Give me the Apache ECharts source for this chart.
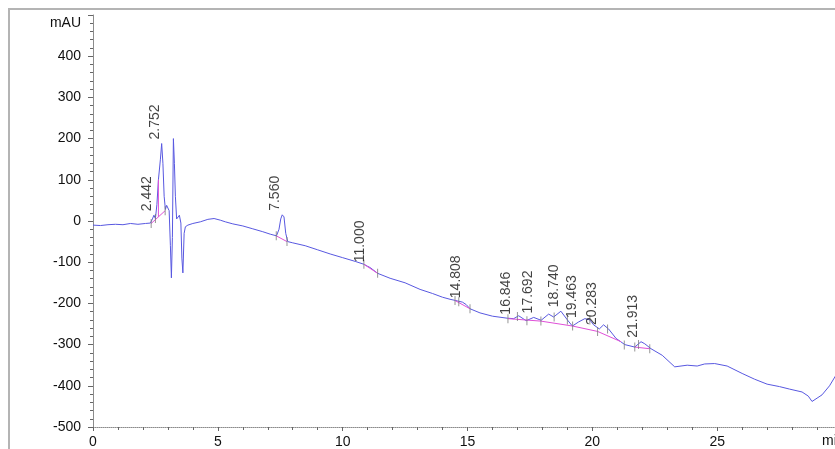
<!DOCTYPE html>
<html>
<head>
<meta charset="utf-8">
<script src="https://cdn.jsdelivr.net/npm/echarts@6/dist/echarts.min.js"></script>
<style>
  html, body { margin: 0; padding: 0; background: #fff; }
  #chart { width: 835px; height: 449px; }
</style>
</head>
<body>
<div id="chart"></div>
<script>
// Detector trace: retention time (min) and absorbance (mAU)
const traceTime = [0, 0.3, 0.6, 0.9, 1.2, 1.5, 1.8, 2.1, 2.3, 2.38, 2.44, 2.5, 2.56, 2.62, 2.66, 2.7, 2.75, 2.8, 2.85, 2.9, 2.95, 3.0, 3.05, 3.1, 3.14, 3.18, 3.22, 3.26, 3.3, 3.35, 3.4, 3.46, 3.52, 3.56, 3.6, 3.65, 3.7, 3.8, 4.0, 4.3, 4.6, 4.85, 5.1, 5.3, 5.6, 6.0, 6.4, 6.8, 7.1, 7.35, 7.45, 7.52, 7.58, 7.65, 7.72, 7.8, 8.0, 8.5, 9.0, 9.5, 10.0, 10.5, 10.85, 11.0, 11.1, 11.4, 11.9, 12.5, 13.1, 13.6, 14.0, 14.3, 14.6, 14.8, 14.95, 15.1, 15.5, 16.0, 16.6, 16.85, 17.05, 17.35, 17.65, 17.95, 18.25, 18.45, 18.74, 19.0, 19.2, 19.45, 19.7, 19.9, 20.05, 20.28, 20.45, 20.65, 20.95, 21.3, 21.7, 21.95, 22.1, 22.35, 22.8, 23.3, 23.8, 24.2, 24.5, 24.9, 25.4, 26.0, 26.5, 27.0, 27.5, 27.9, 28.4, 28.65, 28.8, 29.0, 29.2, 29.5, 29.8];
const traceMAU = [-10, -11, -9, -8, -9, -6, -8, -6, -5, 5, 14, 6, 40, 100, 98, 150, 188, 140, 60, 28, 38, 42, 25, -60, -138, -40, 200, 140, 60, 5, 8, 14, -5, -90, -126, -30, -14, -10, -6, -2, 4, 6, 2, -2, -7, -12, -19, -26, -32, -36, -20, 5, 15, 10, -30, -50, -53, -60, -70, -80, -89, -98, -105, -110, -113, -127, -139, -150, -166, -176, -185, -190, -194, -197, -203, -213, -223, -231, -236, -237, -230, -242, -234, -241, -226, -233, -219, -240, -255, -245, -237, -240, -252, -262, -252, -262, -285, -300, -306, -293, -298, -310, -326, -354, -350, -352, -347, -346, -352, -370, -384, -396, -402, -408, -415, -425, -438, -430, -422, -400, -370];

// Annotated peaks: retention time and signal at the apex
const peakTime = [2.442, 2.752, 7.560, 11.000, 14.808, 16.846, 17.692, 18.740, 19.463, 20.283, 21.913];
const peakMAU = [14, 188, 15, -110, -197, -237, -234, -219, -245, -262, -293];

// Integration baselines (null separates segments)
const baseTime = [2.33, 2.89, null, 2.62, 2.62, null, 7.34, 7.77, null, 10.85, 11.4, null, 14.5, 15.1, null, 16.62, 17.94, 19.21, 20.21, 21.15, null, 21.7, 22.3];
const baseMAU = [-6, 25, null, 10, 100, null, -36, -50, null, -105, -127, null, -193, -213, null, -237, -243, -255, -268, -293, null, -306, -310];

// Peak start / end event marks
const eventTime = [2.33, 2.5, 2.89, 7.34, 7.77, 10.85, 11.4, 14.5, 14.65, 15.1, 16.62, 17.0, 17.38, 17.94, 18.47, 19.0, 19.21, 19.9, 20.21, 20.61, 21.28, 21.7, 21.85, 22.3];
const eventMAU = [-6, 6, 25, -36, -50, -105, -127, -193, -196, -213, -237, -232, -242, -243, -233, -240, -255, -240, -268, -262, -301, -306, -300, -310];

const yTicks = { min: -500, max: 500, step: 100 };
const xTicks = { min: 0, max: 30, step: 5 };

const font = "'Liberation Sans', Arial, sans-serif";
const zip = (a, b) => a.map((v, i) => (v === null ? [null, null] : [v, b[i]]));

const chart = echarts.init(document.getElementById('chart'), null, { renderer: 'canvas' });
chart.setOption({
  animation: false,
  backgroundColor: '#ffffff',
  graphic: [{
    type: 'rect',
    shape: { x: 9, y: 9, width: 900, height: 600 },
    style: { fill: 'none', stroke: '#b4b4b4', lineWidth: 2 },
    silent: true, z: -1
  }],
  grid: { left: 93, top: 15, width: 749, height: 412, containLabel: false, outerBoundsMode: 'none' },
  xAxis: {
    type: 'value',
    min: xTicks.min, max: xTicks.max, interval: xTicks.step,
    name: 'min', nameLocation: 'end', nameGap: -20,
    nameTextStyle: { fontFamily: font, fontSize: 14, color: '#111', align: 'left', verticalAlign: 'top', padding: [7, 0, 0, 0] },
    axisLine: { show: true, onZero: false, lineStyle: { color: '#8c8c8c', type: 'dotted', width: 1 } },
    axisTick: { show: true, length: 4, lineStyle: { color: '#666' } },
    minorTick: { show: true, splitNumber: 5, length: 3, lineStyle: { color: '#666' } },
    splitLine: { show: false },
    axisLabel: {
      fontFamily: font, fontSize: 14, color: '#111', margin: 8,
      formatter: v => (v >= 30 ? '' : String(v))
    }
  },
  yAxis: {
    type: 'value',
    min: yTicks.min, max: yTicks.max, interval: yTicks.step,
    name: 'mAU', nameLocation: 'end', nameGap: -8,
    nameTextStyle: { fontFamily: font, fontSize: 14, color: '#111', align: 'right', verticalAlign: 'middle', padding: [0, 12, 0, 0] },
    axisLine: { show: true, onZero: false, lineStyle: { color: '#8c8c8c', width: 1 } },
    axisTick: { show: true, length: 5, lineStyle: { color: '#666' } },
    minorTick: { show: true, splitNumber: 5, length: 3, lineStyle: { color: '#666' } },
    splitLine: { show: false },
    axisLabel: {
      fontFamily: font, fontSize: 14, color: '#111', margin: 12,
      formatter: v => (v >= 500 ? '' : String(v))
    }
  },
  series: [
    {
      type: 'line', name: 'baseline',
      data: zip(baseTime, baseMAU),
      showSymbol: false, connectNulls: false,
      lineStyle: { color: '#e050d8', width: 1 },
      z: 3, silent: true
    },
    {
      type: 'line', name: 'signal',
      data: zip(traceTime, traceMAU),
      showSymbol: false,
      lineStyle: { color: '#5858e0', width: 1 },
      z: 2, silent: true
    },
    {
      type: 'scatter', name: 'events',
      data: zip(eventTime, eventMAU),
      symbol: 'rect', symbolSize: [1, 9],
      itemStyle: { color: '#7a7a7a' },
      z: 4, silent: true
    },
    {
      type: 'scatter', name: 'peaks',
      data: zip(peakTime, peakMAU),
      symbolSize: 0,
      itemStyle: { color: 'transparent' },
      label: {
        show: true,
        position: [0, -4],
        rotate: 90,
        align: 'left',
        verticalAlign: 'bottom',
        fontFamily: font, fontSize: 14, color: '#111',
        formatter: p => p.value[0].toFixed(3)
      },
      z: 5, silent: true
    }
  ]
});
</script>
</body>
</html>
